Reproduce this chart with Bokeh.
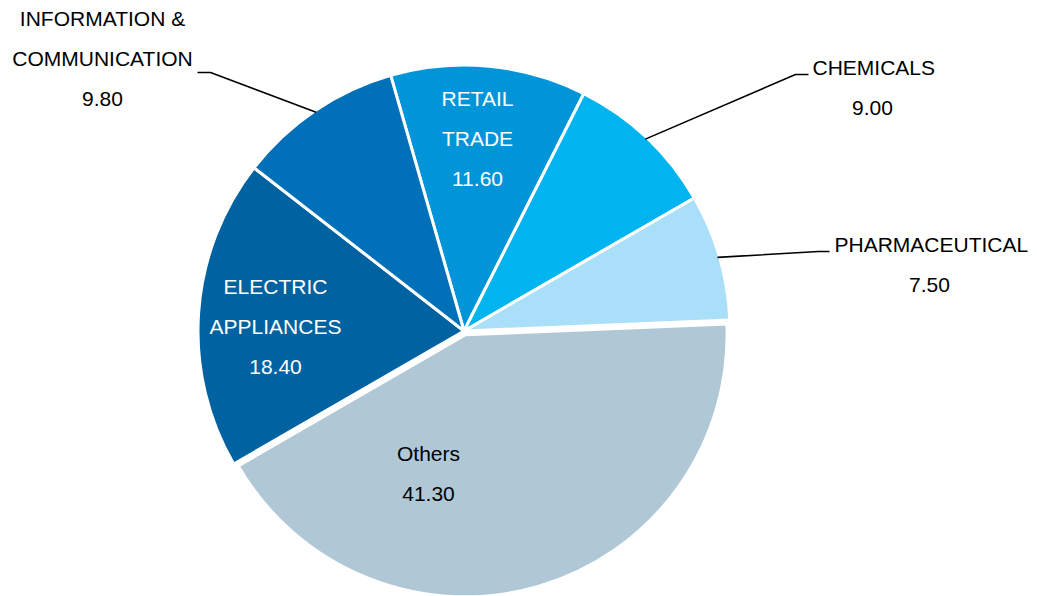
import numpy as np
from bokeh.plotting import figure
from bokeh.models import Range1d, ColumnDataSource
from bokeh.core.properties import value
from bokeh.embed import file_html
from bokeh.resources import INLINE

# ---- data ----
categories = ["RETAIL TRADE", "CHEMICALS", "PHARMACEUTICAL", "Others",
              "ELECTRIC APPLIANCES", "INFORMATION & COMMUNICATION"]
values = [11.6, 9.0, 7.5, 41.3, 18.4, 9.8]
label_lines = [["RETAIL", "TRADE"], ["CHEMICALS"], ["PHARMACEUTICAL"], ["Others"],
               ["ELECTRIC", "APPLIANCES"], ["INFORMATION &", "COMMUNICATION"]]

# ---- style / layout ----
colors = ["#0095D9", "#00B5EF", "#A9DFF8", "#B0C8D6", "#0062A0", "#0071B8"]
explode = [0, 0, 0, 4, 0, 0]
radius_adj = [0, 0, 0, -4, 0, 0]
W, H = 1037, 596
CX, CY, R = 463.5, 330.5, 266      # picture pixel coords (y down)
THETA0 = -16.0                      # start angle, degrees clockwise from 12 o'clock
FONT = value("Liberation Sans")
FS = "21px"
LINE_GAP = 40
TEXT_DY = -1
# label anchor (center of first line) and colour
label_pos = [(477, 99, "white"), (872, 68, "black"), (929, 245, "black"),
             (428, 454, "black"), (275, 287, "white"), (102, 19, "black")]
# outside labels: elbow point and horizontal end
leaders = {1: [(795, 74), (808, 74)],
           2: [(818, 251), (829, 251)],
           5: [(210, 72), (197, 72)]}
title_x_override = {1: (812, "left"), 2: (834, "left")}

def sy(y):
    return H - y

p = figure(width=W, height=H, x_range=Range1d(0, W), y_range=Range1d(0, H),
           output_backend="svg", toolbar_location=None, x_axis_type=None, y_axis_type=None,
           min_border=0)
p.grid.visible = False
p.outline_line_color = None
p.background_fill_color = "white"

vals = np.array(values, dtype=float)
total = vals.sum()
cum = np.concatenate([[0], np.cumsum(vals)]) / total * 360.0 + THETA0
starts = cum[:-1]
ends = cum[1:]
mids = (starts + ends) / 2

xs, ys, rs = [], [], []
for i, m in enumerate(mids):
    r = np.radians(m)
    xs.append(CX + explode[i] * np.sin(r))
    ys.append(sy(CY - explode[i] * np.cos(r)))
    rs.append(R + radius_adj[i])

src = ColumnDataSource(dict(
    x=xs, y=ys, r=rs,
    start=np.radians(90 - starts), end=np.radians(90 - ends),
    color=colors, cat=categories, val=values))
p.wedge(x="x", y="y", radius="r", start_angle="start", end_angle="end", direction="clock",
        fill_color="color", line_color="white", line_width=3, source=src)

# leader lines
for i, pts in leaders.items():
    r = np.radians(mids[i])
    x0 = CX + (R - 2) * np.sin(r)
    y0 = CY - (R - 2) * np.cos(r)
    lx = [x0] + [q[0] for q in pts]
    ly = [sy(y0)] + [sy(q[1]) for q in pts]
    p.line(lx, ly, line_color="black", line_width=1.6)

# labels
for i, (lines, v) in enumerate(zip(label_lines, values)):
    x, y, col = label_pos[i]
    texts = lines + [f"{v:.2f}"]
    for k, t in enumerate(texts):
        tx, align = x, "center"
        if k == 0 and i in title_x_override:
            tx, align = title_x_override[i]
        p.text(x=[tx], y=[sy(y + k * LINE_GAP + TEXT_DY)], text=[t], text_font=FONT,
               text_font_size=FS, text_color=col, text_align=align,
               text_baseline="middle")

open("out.html", "w").write(file_html(p, INLINE))
